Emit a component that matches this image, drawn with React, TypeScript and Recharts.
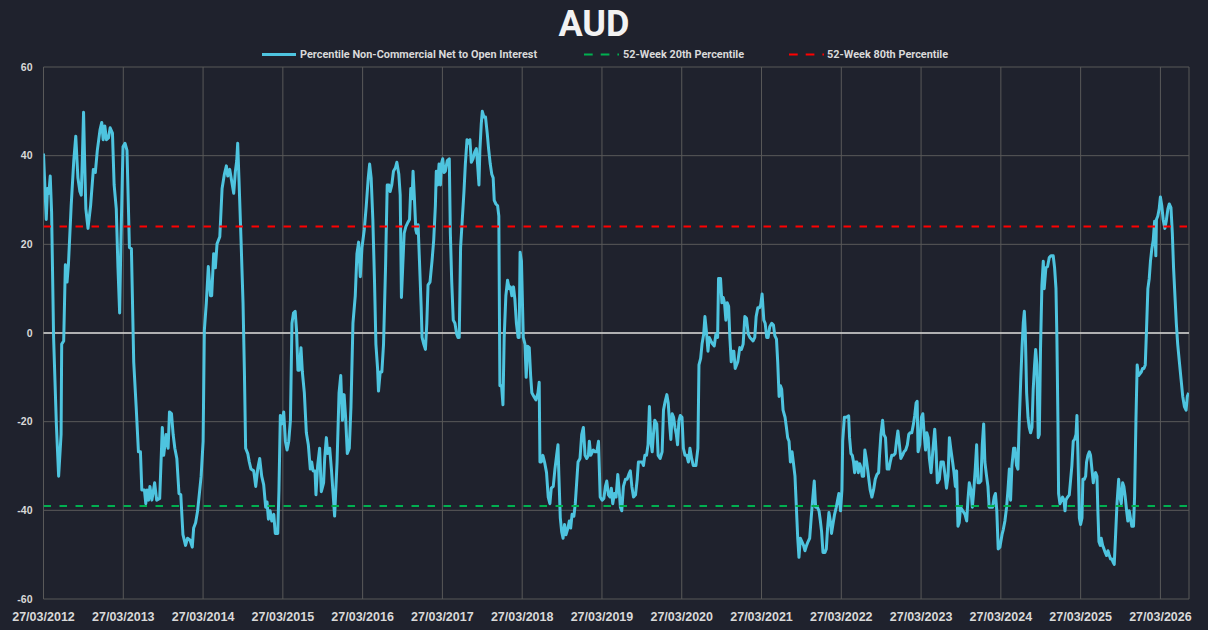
import React from 'react';
import { LineChart, Line, XAxis, YAxis, CartesianGrid, ReferenceLine } from 'recharts';

// ---- data: [week since 27/03/2012, percentile value] ----
const seg2012: [number, number][] = [[0,40.5],[1.8,25.6],[2.6,32.6],[3.5,31.5],[4.4,35.4],[5.3,27.2],[6.6,-1],[8.4,-20.5],[9.9,-32.3],[11.5,-22.9],[11.9,-2.5],[13.2,-1.8],[14.3,15.4],[15.4,11.5],[16.3,15.4],[18.1,28.7],[19.8,38.9],[21.1,44.4],[22.5,35],[23.8,31.9],[24.7,31.1],[25.5,40.5],[26.2,49.8],[26.9,38.9],[27.7,28],[29.1,23.6],[30.8,28.7],[32.6,36.9],[33.9,36.2],[35.2,41.2],[37,45.9],[38.1,47.5],[39,43.6],[40.1,46.7],[41.2,43.6],[42.5,44],[43.6,46.3],[45.1,45.1],[46.2,33.4],[47.6,28],[48.7,14.7],[49.8,4.5],[50.6,20.1],[52,42],[53.3,42.8],[54.6,41.2],[56.2,19.3],[57.5,19],[59,-6.5],[60.6,-16.6],[62.1,-26.8],[63.4,-26.8],[64.3,-35.4],[66,-35.4],[66.9,-38.5],[67.8,-35.4],[68.7,-37.7],[69.6,-34.6],[70.9,-37.7],[72.7,-33.8],[74,-37.7],[76,-37.3],[77.7,-21.3],[78.6,-27.6],[80.2,-22.9],[81.5,-26],[82.4,-17.8],[83.7,-18.2],[84.8,-22.9],[85.9,-26],[87.2,-28.3],[88.6,-36.2],[89.8,-36.5],[91.2,-45.5],[92.9,-47.9],[94.2,-46.3],[95.8,-46.7],[97.3,-48.3],[98.2,-44],[99.5,-42.8],[100.8,-40.1],[103.1,-32.3]];

const seg2014: [number, number][] = [[104.4,-24.4],[105.2,0.6],[106.5,6.8],[107.8,15],[109.2,8.4],[110,8.4],[111.3,17.9],[112.4,14.7],[113.5,20.1],[115.3,21.7],[116.8,32.6],[118.3,35.8],[119.6,37.7],[120.5,35.4],[121.8,36.9],[122.9,34.6],[124.4,31.5],[125.5,36.5],[126.4,38.9],[127,42.8],[127.9,34.2],[129.2,20.9],[130.5,6.8],[131.4,-8.8],[132.2,-26],[133.6,-27.2],[134.6,-29.1],[135.7,-30.7],[137.5,-31.1],[138.8,-34.6],[140.1,-30.7],[141.4,-28.3],[142.7,-32.3],[144,-34.2],[145.3,-39.3],[146.2,-38.1],[147.1,-42],[148.2,-40.1],[149.3,-42.4],[150.6,-40.9],[151.6,-45.2],[153.2,-45.2],[154,-35.4],[154.9,-18.6],[156,-20.5],[157.1,-17.8],[158.2,-24.4],[159.3,-26.4],[160.4,-24.4],[161.5,-19.7],[162.5,2.2],[163.5,4.5],[164.6,4.9],[165.5,0.6],[166.4,-8.4],[167.3,-8.4],[168.4,-3.3],[169.3,-8.8],[170.6,-13.5],[171.9,-22.5],[173.2,-25.2],[174.5,-30.7],[175.4,-29.1],[176.3,-31.1],[177.6,-31.1],[178.2,-36.5],[179.3,-29.9],[180.6,-26],[181.7,-35.8],[183.2,-33.8],[183.9,-28.3],[185,-23.6],[185.9,-27.2],[187.2,-26],[188.3,-30.7],[189.4,-36.2],[190.4,-41.3],[192,-29.1],[193.3,-13.5],[194.4,-9.6],[195.5,-19.7],[196.6,-13.9],[197.6,-19],[198.7,-27.2],[200,-26],[201.1,-16.6],[202.4,2.2],[203.9,8.4],[205,17.9],[206.1,20.5],[207.2,12.7]];

const seg2016: [number, number][] = [[208.3,19.3],[209.8,23.3],[211.1,28.7],[212.4,35],[213.3,38.1],[214.3,35],[215.4,25.6],[216.5,11.5],[217.4,-2.5],[218.5,-8],[219.1,-13.1],[220.2,-8.8],[221.3,-8.8],[222.4,-2.5],[223.7,14.7],[224.8,33.4],[225.9,33.4],[226.7,31.9],[227.8,33.4],[228.9,36.5],[230.2,37.3],[231.1,38.5],[232.4,35.8],[233.3,31.1],[234.1,8],[235,15.4],[235.9,22.5],[237,24],[238.1,24.8],[239.4,25.6],[240.2,32.6],[241.1,30.3],[241.7,36.5],[242.6,30.3],[243.5,23.3],[244.1,22.5],[245,24.4],[245.9,16.2],[247,6],[247.6,-1],[248.7,-2.5],[249.8,-3.7],[250.7,2.2],[251.5,10.8],[252.8,11.5],[254.1,16.2],[255.2,20.9],[256.3,28.7],[256.9,36.5],[257.8,33.4],[258.7,38.1],[259.6,33.4],[260.2,38.1],[261.1,39.3],[262,36.2],[262.8,36.5],[264.1,38.9],[265.4,39.3],[266.1,22.5],[267,11.5],[268,2.9],[269.1,2.2],[270.2,-0.2],[271.1,-1],[271.9,-1],[272.8,19.3],[273.9,25.6],[275,31.9],[275.9,38.1],[277,43.6],[277.8,42.8],[278.9,43.6],[279.8,38.5],[280.9,39.3],[282,40.8],[283.1,41.6],[283.9,38.1],[284.8,33.4],[285.4,41.2],[286.3,47.1],[287,50],[288.1,48.7],[289.1,48.7],[290.2,45.1],[291.1,41.6],[292.2,38.1],[293.2,35.8],[294.1,35],[294.8,29.9],[295.9,29.1],[297,28.7],[297.8,26.4],[298.5,-11.9],[299.6,-11.9],[300.5,-16.2],[301.3,-1],[302.4,8.4],[303.5,11.9],[304.6,10],[305.4,10.4],[306.3,8.4],[307.4,10.4],[308.3,7.6],[309.3,2.2],[310.4,-1],[311.1,-1],[311.7,18.2],[312.6,16.2]];

const seg2018: [number, number][] = [[313.8,-1],[314.9,-2.5],[315.7,-10],[316.6,-3],[317.7,-3.3],[318.6,-9.6],[319.4,-13.5],[320.7,-14.3],[322.1,-15.1],[323.4,-13.5],[324.2,-11.1],[324.7,-29.1],[325.6,-29.1],[326.6,-27.6],[327.7,-29.1],[329,-31.5],[330.1,-37],[331.2,-38.5],[332.1,-35],[333.4,-34.6],[334.5,-30.7],[335.6,-27.6],[336.5,-25.2],[337.1,-32.3],[338,-41.7],[338.9,-44.8],[339.8,-46.3],[340.8,-43.2],[341.7,-45.5],[343,-44],[343.9,-42.4],[344.8,-44],[345.7,-40.9],[346.9,-41.3],[347.8,-38.5],[348.7,-33.8],[349.6,-29.1],[350.9,-28.3],[352,-22.9],[353.1,-21.3],[354.2,-27.6],[355.3,-28.3],[356.4,-27.6],[357,-24.4],[357.9,-27.6],[359,-26.8],[359.6,-26.4],[360.8,-26.8],[361.9,-26.8],[363,-24.4],[364.1,-37],[365.4,-37.7],[366.5,-37.3],[367.5,-34.6],[368.4,-33.4],[369.5,-36.5],[370.6,-37],[371.4,-35],[372.3,-38.5],[373.4,-36.2],[374.5,-37],[375.6,-31.9],[376.5,-35.4],[377.3,-39.3],[378.2,-40.1],[379.3,-34.6],[380.6,-33],[381.7,-33],[382.8,-31.9],[383.8,-31.1],[384.8,-34.6],[385.9,-37],[387.2,-36.5],[388.3,-33],[389.1,-29.1],[390.2,-29.1],[391.5,-29.1],[392.4,-29.9],[393.3,-27.6],[394.4,-27.6],[395.4,-25.2],[396.3,-16.6],[397.2,-24.4],[398.1,-26.8],[398.9,-22.9],[399.8,-19.7],[401.1,-20.5],[402,-27.6],[403.3,-28.3],[404.6,-26.8],[405.5,-17.4],[406.6,-15.4],[407.7,-13.9],[408.6,-15.8],[409.5,-20.5],[410.3,-24],[411.2,-18.2],[412.1,-19],[413,-21.3],[413.9,-22.9],[414.7,-25.2],[415.6,-19.7],[416.5,-18.6],[417.6,-19]];

const seg2020: [number, number][] = [[418.5,-26],[419.6,-27.6],[420.7,-27.6],[421.8,-29.1],[422.8,-26],[423.9,-28.3],[425,-29.9],[426.7,-29.9],[428,-26],[428.7,-7.2],[429.8,-5.7],[430.7,-2.5],[431.8,-0.2],[432.6,3.7],[433.5,0.6],[434.6,-4.1],[435.4,-1],[436.5,-1.8],[437.6,-2.5],[438.7,-2.9],[439.8,-0.2],[440.9,-1],[441.5,12.3],[442.8,12.3],[443.7,6.8],[444.6,8],[445.4,6.8],[446.3,2.9],[447.2,6.8],[448.1,6],[448.9,-1],[449.8,-6.5],[450.7,-4.1],[451.5,-4.1],[452.4,-8],[453.3,-7.2],[454.1,-6.5],[455.4,-3.3],[456.5,-3.7],[457.6,-2.5],[458.7,3.7],[459.8,3.3],[460.9,-0.2],[462,-1],[463.1,-1.4],[464.1,-1.8],[465.2,-1],[466.1,3.7],[467.2,5.7],[468.3,5.7],[469.1,6.4],[470,8.8],[471.1,2.9],[472,2.2],[473,-1],[473.9,-1],[475,1.4],[476.3,2.2],[477.4,1.8],[478.3,-0.6],[479.4,-1.4],[480.2,-6.5],[481.1,-14.3],[482,-11.9],[482.8,-12.7],[483.7,-17.4],[485,-19],[485.9,-21.3],[486.7,-23.6],[487.6,-24.4],[488.5,-29.1],[489.6,-26.8],[490.4,-29.1],[491.5,-32.3],[492.4,-39.3],[493.3,-46.3],[494.1,-50.6],[495,-46.3],[496.1,-47.1],[497.1,-47.9],[498,-49.1],[499.1,-47.9],[500,-47.1],[501.1,-46.3],[502.1,-41.7],[503.2,-37],[504.1,-33.4],[505,-39.3],[506.1,-39.3],[507.2,-40.1],[508.1,-42.4],[508.9,-44.8],[509.8,-49.5],[511.1,-49.5],[512,-48.7],[512.8,-44],[513.7,-40.5],[514.6,-42.4],[515.4,-45.2],[516.3,-43.2],[517.4,-40.9],[518.5,-39.3],[519.6,-37.3],[520.2,-36.2],[521.3,-40.1],[522.2,-35.4]];

const seg2022: [number, number][] = [[522.7,-24.4],[523.8,-19],[525.1,-19],[526.6,-18.7],[527.2,-23.6],[528.1,-27.2],[529,-27.6],[529.8,-29.1],[530.5,-31.5],[531.2,-29.1],[532,-29.1],[532.9,-31.5],[533.8,-29.5],[534.6,-30.3],[535.5,-32.3],[536.4,-32.3],[537.2,-26.4],[538.1,-28.3],[539,-30.7],[539.8,-33],[540.7,-35.4],[541.8,-37],[542.9,-35.4],[544,-33],[545.1,-31.9],[546.2,-31.5],[546.8,-27.6],[547.7,-22.9],[548.8,-19.7],[549.6,-22.9],[550.7,-23.6],[551.8,-30.7],[552.9,-30.7],[553.8,-29.1],[554.8,-27.6],[555.9,-27.6],[557,-27.2],[557.9,-24.4],[558.8,-22.1],[559.8,-25.2],[560.7,-28.3],[561.8,-27.6],[562.8,-26.8],[563.9,-26.4],[565,-25.2],[565.9,-22.9],[566.8,-22.5],[567.9,-22.5],[569,-20.5],[569.8,-18.6],[570.7,-15.8],[571.4,-15.4],[572,-26.8],[573.1,-25.2],[574.2,-19],[575.1,-18.2],[576,-22.9],[576.9,-26.4],[577.7,-22.5],[578.6,-23.6],[579.4,-28.3],[580.5,-31.5],[581.6,-26.8],[582.9,-21.7],[583.8,-26.8],[584.6,-33.8],[585.9,-33],[587,-29.1],[588.5,-29.1],[589.6,-31.9],[590.6,-35],[591.6,-32.3],[592.5,-23.6],[593.5,-26.4],[594.6,-29.1],[595.5,-31.5],[596.4,-34.6],[597.2,-31.1],[598.1,-43.6],[598.9,-42.8],[599.8,-39.3],[601.2,-40.1],[602.7,-40.9],[603.8,-42.4],[604.6,-37.7],[605.5,-33.8],[606.6,-35.4],[607.5,-39.3],[608.3,-36.2],[609.4,-30.7],[610.3,-25.2],[611.2,-33.8],[612,-33.8],[613.1,-33.4],[614,-25.2],[614.9,-20.5],[615.7,-29.1],[616.8,-32.3],[617.7,-34.6],[618.5,-39.3],[619.6,-39.3],[620.7,-39.3],[621.8,-37],[622.6,-36.2],[623.5,-40.1],[624.4,-48.7],[625.5,-48.3]];

const seg2024: [number, number][] = [[626.9,-45.5],[627.7,-44.4],[628.8,-42.4],[629.9,-39.3],[630.8,-35.4],[631.7,-30.7],[632.5,-37.7],[633.4,-29.9],[634.5,-26],[635.4,-26],[636.4,-29.9],[637.3,-30.7],[638.2,-19.7],[639.1,-11.1],[640,-3.3],[640.8,2.2],[641.5,4.9],[642.1,0.6],[643,-13.5],[643.9,-19],[644.7,-21.3],[645.6,-22.5],[646.5,-21.3],[647.3,-12.7],[648.2,-7.2],[648.9,-3.7],[649.7,-7.2],[650.6,-23.6],[651.3,-22.9],[652.1,-3.3],[653,10.8],[653.9,16.2],[654.5,10],[655.6,14.7],[656.7,15],[657.8,17],[658.9,17.4],[660.4,17.4],[661.3,14.7],[662.2,10],[662.8,-1],[663.5,-20.5],[663.9,-36.2],[664.8,-38.5],[665.7,-37.7],[666.5,-37],[667.4,-37.7],[668.1,-40.1],[668.7,-37.7],[669.8,-37],[670.9,-36.5],[671.8,-33],[672.6,-29.9],[673.5,-24.4],[674.4,-24],[675.3,-22.9],[675.9,-18.6],[676.6,-27.6],[677.5,-41.7],[678.3,-43.2],[679.2,-41.7],[679.8,-33],[680.7,-33],[681.6,-32.3],[682.2,-29.1],[683.1,-27.6],[684,-26.8],[684.8,-27.6],[685.7,-30.7],[686.6,-33.8],[687.2,-32.3],[688.1,-31.5],[689,-32.3],[689.6,-40.1],[690.3,-47.1],[691.2,-47.9],[691.8,-46.3],[692.7,-47.9],[693.6,-48.7],[694.4,-49.5],[695.3,-50.2],[696.2,-49.1],[697.1,-50.2],[697.9,-51],[698.8,-51],[699.7,-51.8],[700.3,-52.2],[701.2,-45.5],[702.1,-38.5],[703.2,-33],[704,-37],[704.9,-38.5],[705.8,-33.8],[706.6,-34.6],[707.5,-37],[708.4,-40.1],[709.2,-42.4],[710.1,-40.1],[711,-42],[711.8,-43.6],[712.9,-43.6],[713.6,-37],[714.5,-19.7],[715.3,-7.2],[716.2,-9.6],[717.1,-9.2],[718,-8.8],[718.8,-8],[719.7,-8],[720.6,-7.2],[721.4,0.6],[722.3,10],[723.2,12.3],[724,16.2],[724.9,19],[725.8,20.9],[726.7,25.2],[727.5,17.4],[727.9,25.6],[728.8,26.4],[729.7,28],[730.5,30.7],[731.4,28.7],[732.3,25.6],[733.4,23.6],[734.3,25.2],[735.4,28],[736.3,29.1],[737.4,28.3],[738.3,22.5],[739.1,14.7],[740,8.4],[740.9,2.2],[741.8,-2.5],[742.9,-6.5],[744,-10.4],[745.1,-14.3],[746.2,-16.6],[747.3,-17.4],[748.1,-14.3],[749,-13.5]];

const P20_VALUE = -39;
const P80_VALUE = 24;
const BAND_WEEKS = [0, 749.2];

const YEAR_WEEKS = [0, 52.18, 104.36, 156.54, 208.71, 260.89, 313.07, 365.25, 417.43, 469.61, 521.79, 573.96, 626.14, 678.32, 730.5];
const YEAR_LABELS = ['27/03/2012','27/03/2013','27/03/2014','27/03/2015','27/03/2016','27/03/2017','27/03/2018','27/03/2019','27/03/2020','27/03/2021','27/03/2022','27/03/2023','27/03/2024','27/03/2025','27/03/2026'];
const Y_TICKS = [-60, -40, -20, 0, 20, 40, 60];

const SERIES_NAME = 'Percentile Non-Commercial Net to Open Interest';
const P20_NAME = '52-Week 20th Percentile';
const P80_NAME = '52-Week 80th Percentile';

const data = [...seg2012, ...seg2014, ...seg2016, ...seg2018, ...seg2020, ...seg2022, ...seg2024].map(([w, v]) => ({ w, v }));
const bandData = BAND_WEEKS.map((w) => ({ w, p20: P20_VALUE, p80: P80_VALUE }));

const BG = '#1F222D';
const CYAN = '#4EC4DF';
const GREEN = '#00B050';
const RED = '#FF0000';
const GRID = '#595959';
const TEXT = '#D9D9D9';

const labelFor = (v: number) => {
  let best = 0;
  YEAR_WEEKS.forEach((w, i) => { if (Math.abs(w - v) < Math.abs(YEAR_WEEKS[best] - v)) best = i; });
  return YEAR_LABELS[best];
};

export default function App() {
  return (
    <div style={{ position: 'relative', width: 1208, height: 630, background: BG }}>
      <style>{`body{margin:0;background:${BG};}`}</style>
      <LineChart width={1208} height={630} data={data} margin={{ top: 67, right: 19, bottom: 0, left: 0 }}>
        <CartesianGrid stroke={GRID} strokeWidth={1} />
        <XAxis
          type="number"
          dataKey="w"
          domain={[0, 749.2]}
          ticks={YEAR_WEEKS}
          interval={0}
          allowDataOverflow
          height={31}
          axisLine={false}
          tickLine={false}
          tickSize={0}
          tickMargin={13}
          tickFormatter={labelFor}
          tick={{ fill: TEXT, fontSize: 12.5, fontWeight: 700, fontFamily: 'Liberation Sans, Arial, sans-serif' }}
        />
        <YAxis
          type="number"
          domain={[-60, 60]}
          ticks={Y_TICKS}
          interval={0}
          allowDataOverflow
          width={43.5}
          axisLine={false}
          tickLine={false}
          tickSize={0}
          tickMargin={11}
          tick={{ fill: TEXT, fontSize: 10.5, fontWeight: 700, fontFamily: 'Liberation Sans, Arial, sans-serif' }}
        />
        <ReferenceLine y={0} stroke={TEXT} strokeWidth={1.3} />
        <Line name={SERIES_NAME} dataKey="v" type="linear" stroke={CYAN} strokeWidth={3} dot={false} activeDot={false} isAnimationActive={false} strokeLinejoin="round" />
        <Line name={P20_NAME} data={bandData} dataKey="p20" type="linear" stroke={GREEN} strokeWidth={2} strokeDasharray="7.5 8.5" dot={false} activeDot={false} isAnimationActive={false} />
        <Line name={P80_NAME} data={bandData} dataKey="p80" type="linear" stroke={RED} strokeWidth={2} strokeDasharray="7.5 8.5" dot={false} activeDot={false} isAnimationActive={false} />
      </LineChart>
      <svg width={1208} height={630} style={{ position: 'absolute', left: 0, top: 0, pointerEvents: 'none' }}>
        <text x={594} y={36} textAnchor="middle" fontFamily="Roboto, sans-serif" fontWeight={700} fontSize={36} fill="#F2F2F2">AUD</text>
        <g fontFamily="Roboto, sans-serif" fontWeight={700} fontSize={10.9} fill={TEXT}>
          <line x1={262} x2={296} y1={54.5} y2={54.5} stroke={CYAN} strokeWidth={3} />
          <text x={300} y={58}>{SERIES_NAME}</text>
          <line x1={584} x2={619} y1={54.5} y2={54.5} stroke={GREEN} strokeWidth={2} strokeDasharray="8.7 8" />
          <text x={623} y={58}>{P20_NAME}</text>
          <line x1={789} x2={824} y1={54.5} y2={54.5} stroke={RED} strokeWidth={2} strokeDasharray="8.7 8" />
          <text x={827} y={58}>{P80_NAME}</text>
        </g>
      </svg>
    </div>
  );
}
